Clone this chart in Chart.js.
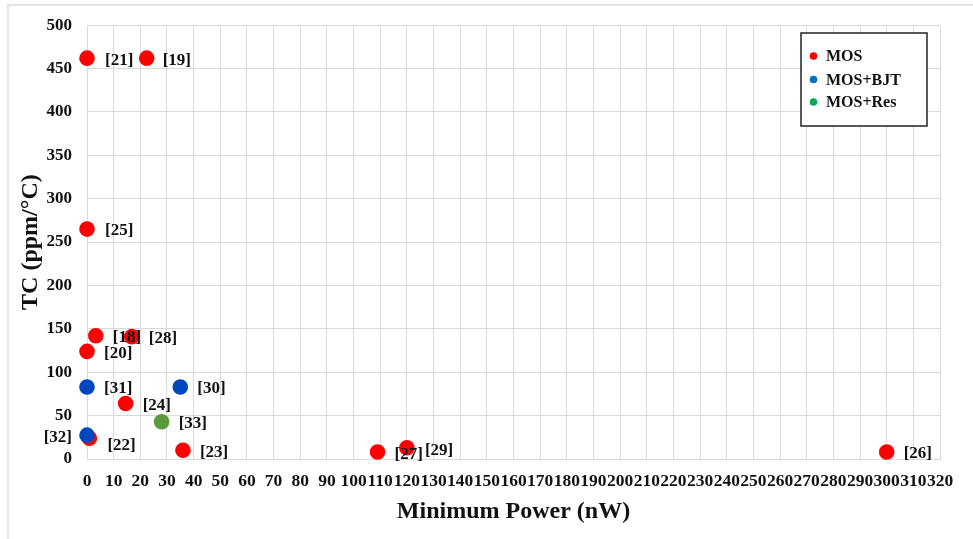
<!DOCTYPE html>
<html>
<head>
<meta charset="utf-8">
<script src="https://cdn.jsdelivr.net/npm/chart.js@4.4.1/dist/chart.umd.min.js"></script>
<style>
  html, body { margin: 0; padding: 0; background: #ffffff; }
  #wrap { width: 973px; height: 539px; }
</style>
</head>
<body>
<div id="wrap"><canvas id="c" width="973" height="539"></canvas></div>
<script>
// Series: minimum power (nW) vs temperature coefficient (ppm/°C), by topology
const seriesNames = ['MOS', 'MOS+BJT', 'MOS+Res'];

const mosRefs  = ['[21]', '[19]', '[25]', '[18]', '[28]', '[20]', '[24]', '[22]', '[23]', '[27]', '[29]', '[26]'];
const mosPower = [0, 22.4, 0, 3.3, 16.8, 0, 14.5, 0.9, 36, 109, 120, 300];
const mosTC    = [462, 462, 265, 142, 141, 124, 64, 24, 10, 8, 13, 8];

const bjtRefs  = ['[31]', '[30]', '[32]'];
const bjtPower = [0, 35, 0];
const bjtTC    = [83, 83, 27.5];

const resRefs  = ['[33]'];
const resPower = [28];
const resTC    = [43];

const xTickValues = [0, 10, 20, 30, 40, 50, 60, 70, 80, 90, 100, 110, 120, 130, 140, 150,
                     160, 170, 180, 190, 200, 210, 220, 230, 240, 250, 260, 270, 280, 290, 300, 310, 320];
const yTickValues = [0, 50, 100, 150, 200, 250, 300, 350, 400, 450, 500];

const xTitle = 'Minimum Power (nW)';
const yTitle = 'TC (ppm/°C)';

// Styling
const SERIF = "'Liberation Serif', 'Times New Roman', serif";
const markerColors = ['#ff0000', '#0047bf', '#5a9a3c'];
const legendColors = ['#ff0000', '#0070c0', '#00b050'];
const gridColor = '#d9d9d9';

// Where each reference tag sits relative to its marker: [dx, dy, align]
const tagOffsetDefault = [17, 2, 'left'];
const tagOffsets = {
  '[21]': [18, 2, 'left'],
  '[19]': [16, 2, 'left'],
  '[25]': [18, 2, 'left'],
  '[22]': [18, 7, 'left'],
  '[32]': [-15, 2, 'right'],
  '[27]': [17, 3, 'left'],
  '[29]': [18, 3, 'left']
};

function toPoints(xs, ys) {
  return xs.map((x, i) => ({ x: x, y: ys[i] }));
}

const datasets = [
  { label: seriesNames[0], data: toPoints(mosPower, mosTC), refs: mosRefs, order: 3 },
  { label: seriesNames[1], data: toPoints(bjtPower, bjtTC), refs: bjtRefs, order: 1 },
  { label: seriesNames[2], data: toPoints(resPower, resTC), refs: resRefs, order: 2 }
].map((d, i) => Object.assign(d, {
  backgroundColor: markerColors[i],
  borderColor: markerColors[i],
  borderWidth: 0,
  pointRadius: 7.8,
  pointHoverRadius: 7.8,
  clip: false
}));

// Light frame along the top and left of the figure
const framePlugin = {
  id: 'frame',
  beforeDraw(chart) {
    const ctx = chart.ctx;
    ctx.save();
    ctx.fillStyle = '#ffffff';
    ctx.fillRect(0, 0, chart.width, chart.height);
    ctx.strokeStyle = '#e3e3e3';
    ctx.lineWidth = 2;
    ctx.beginPath();
    ctx.moveTo(8, chart.height);
    ctx.lineTo(8, 5);
    ctx.lineTo(chart.width, 5);
    ctx.stroke();
    ctx.restore();
  }
};

// Reference tags next to each marker
const tagPlugin = {
  id: 'tags',
  afterDatasetsDraw(chart) {
    const ctx = chart.ctx;
    ctx.save();
    ctx.font = 'bold 17px ' + SERIF;
    ctx.fillStyle = '#111111';
    ctx.textBaseline = 'middle';
    chart.data.datasets.forEach((ds, di) => {
      const meta = chart.getDatasetMeta(di);
      meta.data.forEach((pt, pi) => {
        const tag = ds.refs[pi];
        const off = tagOffsets[tag] || tagOffsetDefault;
        ctx.textAlign = off[2];
        ctx.fillText(tag, pt.x + off[0], pt.y + off[1]);
      });
    });
    ctx.restore();
  }
};

// Boxed legend inside the plot area
const legendBoxPlugin = {
  id: 'legendBox',
  afterDraw(chart) {
    const ctx = chart.ctx;
    const bx = 801, by = 33, bw = 126, bh = 93;
    ctx.save();
    ctx.fillStyle = '#ffffff';
    ctx.fillRect(bx, by, bw, bh);
    ctx.strokeStyle = '#222222';
    ctx.lineWidth = 1.5;
    ctx.strokeRect(bx, by, bw, bh);
    ctx.font = 'bold 16px ' + SERIF;
    ctx.textBaseline = 'middle';
    ctx.textAlign = 'left';
    const rows = [56, 79.5, 102];
    seriesNames.forEach((name, i) => {
      ctx.fillStyle = legendColors[i];
      ctx.beginPath();
      ctx.arc(813.5, rows[i], 3.8, 0, Math.PI * 2);
      ctx.fill();
      ctx.fillStyle = '#111111';
      ctx.fillText(name, 826, rows[i] + 1);
    });
    ctx.restore();
  }
};

new Chart(document.getElementById('c'), {
  type: 'scatter',
  data: { datasets: datasets },
  options: {
    responsive: false,
    animation: false,
    devicePixelRatio: 1,
    layout: { padding: { left: 8, right: 33, top: 23, bottom: 0 } },
    plugins: {
      legend: { display: false },
      tooltip: { enabled: false }
    },
    scales: {
      x: {
        type: 'linear',
        min: 0,
        max: 320,
        afterBuildTicks(scale) { scale.ticks = xTickValues.map(v => ({ value: v })); },
        afterFit(scale) { scale.height = 80; },
        grid: { color: gridColor, lineWidth: 1, drawTicks: false },
        border: { color: gridColor, width: 1 },
        ticks: {
          autoSkip: false,
          maxRotation: 0,
          minRotation: 0,
          padding: 12,
          color: '#111111',
          font: { family: SERIF, size: 17.5, weight: 'bold' }
        },
        title: {
          display: true,
          text: xTitle,
          color: '#111111',
          padding: { top: 0, bottom: 13 },
          font: { family: SERIF, size: 24, weight: 'bold' }
        }
      },
      y: {
        type: 'linear',
        min: 0,
        max: 500,
        afterBuildTicks(scale) { scale.ticks = yTickValues.map(v => ({ value: v })); },
        afterFit(scale) { scale.width = 79; },
        grid: { color: gridColor, lineWidth: 1, drawTicks: false },
        border: { color: gridColor, width: 1 },
        ticks: {
          padding: 15,
          color: '#111111',
          font: { family: SERIF, size: 17, weight: 'bold' }
        },
        title: {
          display: true,
          text: yTitle,
          color: '#111111',
          padding: { top: 8, bottom: 0 },
          font: { family: SERIF, size: 24, weight: 'bold' }
        }
      }
    }
  },
  plugins: [framePlugin, tagPlugin, legendBoxPlugin]
});
</script>
</body>
</html>
